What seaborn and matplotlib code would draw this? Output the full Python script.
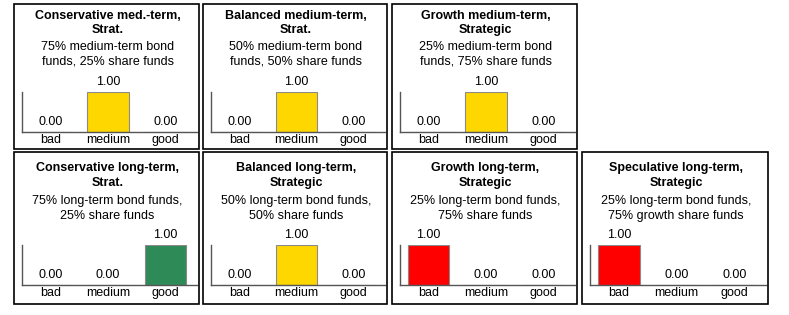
import seaborn as sns
import matplotlib.pyplot as plt
from matplotlib.patches import Rectangle

# chart data
categories = ["bad", "medium", "good"]
titles = [
    ["Conservative med.-term,", "Strat."],
    ["Balanced medium-term,", "Strat."],
    ["Growth medium-term,", "Strategic"],
    ["Conservative long-term,", "Strat."],
    ["Balanced long-term,", "Strategic"],
    ["Growth long-term,", "Strategic"],
    ["Speculative long-term,", "Strategic"],
]
subtitles = [
    ["75% medium-term bond", "funds, 25% share funds"],
    ["50% medium-term bond", "funds, 50% share funds"],
    ["25% medium-term bond", "funds, 75% share funds"],
    ["75% long-term bond funds,", "25% share funds"],
    ["50% long-term bond funds,", "50% share funds"],
    ["25% long-term bond funds,", "75% share funds"],
    ["25% long-term bond funds,", "75% growth share funds"],
]
values = [
    [0, 1, 0],
    [0, 1, 0],
    [0, 1, 0],
    [0, 0, 1],
    [0, 1, 0],
    [1, 0, 0],
    [1, 0, 0],
]
cat_colors = {"bad": "#FF0000", "medium": "#FFD700", "good": "#2E8B57"}

sns.set_style("white")
plt.rcParams["font.family"] = ["Liberation Sans", "DejaVu Sans"]
plt.rcParams["text.color"] = "black"
plt.rcParams["xtick.color"] = "black"

W, H = 789, 315
FS = 9
fig = plt.figure(figsize=(W / 100, H / 100), dpi=100)

# panel layout in pixels
cols = [(14, 199), (203, 387), (392, 577), (582, 768)]
rows = [(4, 149), (152, 304)]
slots = [(0, 0), (0, 1), (0, 2), (1, 0), (1, 1), (1, 2), (1, 3)]
row_text = [(16, 30, 47, 62, 132), (168, 183, 201, 216, 285)]

def fx(x):
    return x / W

def fy(y):
    return 1 - y / H

for i, (r, c) in enumerate(slots):
    x0, x1 = cols[c]
    y0, y1 = rows[r]
    fig.patches.append(Rectangle((fx(x0), fy(y1)), fx(x1 - x0), (y1 - y0) / H,
                                 transform=fig.transFigure, fill=False,
                                 edgecolor="black", linewidth=1.2))
    t1, t2, s1, s2, base = row_text[r]
    cx = fx((x0 + x1) / 2 + 1)
    fig.text(cx, fy(t1), titles[i][0], ha="center", va="center",
             fontsize=FS, fontweight="bold")
    fig.text(cx, fy(t2), titles[i][1], ha="center", va="center",
             fontsize=FS, fontweight="bold")
    fig.text(cx, fy(s1), subtitles[i][0], ha="center", va="center", fontsize=FS)
    fig.text(cx, fy(s2), subtitles[i][1], ha="center", va="center", fontsize=FS)

    ax = fig.add_axes([fx(x0 + 8), fy(base), fx(x1 - x0 - 10), 40 / H])
    sns.barplot(x=categories, y=values[i], hue=categories, palette=cat_colors,
                legend=False, width=0.72, edgecolor="#8a8a8a", linewidth=0.8,
                saturation=1, ax=ax)
    for cont in ax.containers:
        ax.bar_label(cont, fmt="%.2f", padding=3, fontsize=FS)
    ax.set_ylim(0, 1)
    ax.set_xlim(-0.5, 2.55)
    ax.set_yticks([])
    ax.set_ylabel("")
    ax.tick_params(axis="x", length=0, pad=1.5, labelsize=FS)
    for s in ["top", "right"]:
        ax.spines[s].set_visible(False)
    for s in ["left", "bottom"]:
        ax.spines[s].set_color("#555555")
        ax.spines[s].set_linewidth(1)
    ax.patch.set_alpha(0)

fig.savefig("out.png", dpi=100)
